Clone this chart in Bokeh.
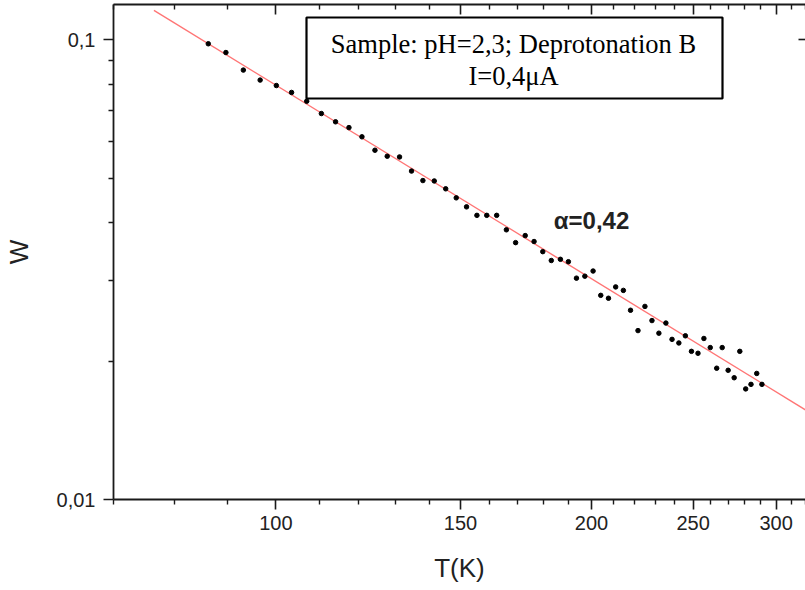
from bokeh.plotting import figure
from bokeh.models import FixedTicker, LogAxis, Label, BoxAnnotation, Range1d
from bokeh.embed import file_html
from bokeh.resources import INLINE

# ---- data ----
temperature_K = [86.2, 89.6, 93.1, 96.6, 100.1, 103.5, 107.0, 110.5, 114.0, 117.4,
                 120.8, 124.3, 127.7, 131.2, 134.7, 138.1, 141.6, 145.2, 148.6, 152.0,
                 155.5, 158.9, 162.4, 165.9, 169.3, 172.9, 176.3, 179.7, 183.1, 186.8,
                 190.1, 193.5, 197.1, 200.7, 204.1, 207.6, 210.9, 214.5, 217.9, 221.5,
                 224.9, 228.4, 231.9, 235.5, 238.7, 242.3, 245.8, 249.1, 252.7, 256.0,
                 259.6, 263.3, 266.5, 270.0, 273.6, 277.0, 280.6, 283.9, 287.5, 290.8]
W_values = [0.0980, 0.0938, 0.0859, 0.0817, 0.0795, 0.0768, 0.0735, 0.0691, 0.0663, 0.0644,
            0.0615, 0.0575, 0.0558, 0.0556, 0.0518, 0.0494, 0.0493, 0.0474, 0.0453, 0.0433,
            0.0415, 0.0415, 0.0415, 0.0386, 0.0362, 0.0375, 0.0364, 0.0346, 0.0331, 0.0333,
            0.0329, 0.0303, 0.0306, 0.0314, 0.0278, 0.0274, 0.0290, 0.0285, 0.0258, 0.0233,
            0.0263, 0.0245, 0.0230, 0.0242, 0.0223, 0.0219, 0.0227, 0.0210, 0.0208, 0.0224,
            0.0214, 0.0193, 0.0214, 0.0191, 0.0184, 0.0210, 0.0174, 0.0178, 0.0188, 0.0178]

fit_T = [76.5, 330.0]
fit_W = [0.1158, 0.0150]

x_major_ticks = [100, 150, 200, 250, 300]
x_tick_labels = ["100", "150", "200", "250", "300"]
x_minor_ticks = [70, 80, 90, 110, 120, 130, 140, 160, 170, 180, 190,
                 210, 220, 230, 240, 260, 270, 280, 290, 310, 320]
y_major_ticks = [0.01, 0.1]
y_tick_labels = ["0,01", "0,1"]
y_minor_ticks = [0.02, 0.03, 0.04, 0.05, 0.06, 0.07, 0.08, 0.09]

legend_line1 = "Sample: pH=2,3; Deprotonation B"
legend_line2 = "I=0,4\u03bcA"
alpha_text = "\u03b1=0,42"
x_title = "T(K)"
y_title = "W"

# ---- figure ----
FONT = "Liberation Sans"
INK = "#1a1a1a"

p = figure(width=805, height=590, x_axis_type="log", y_axis_type="log",
           x_range=Range1d(70, 320), y_range=Range1d(0.01, 0.1193),
           output_backend="svg", toolbar_location=None,
           min_border_left=108, min_border_right=0, min_border_top=4,
           min_border_bottom=91)
p.xgrid.visible = False
p.ygrid.visible = False
p.outline_line_color = None
p.background_fill_color = "white"
p.border_fill_color = "white"

xt = FixedTicker(ticks=x_major_ticks, minor_ticks=x_minor_ticks)
yt = FixedTicker(ticks=y_major_ticks, minor_ticks=y_minor_ticks)

xb = p.below[0]
xb.ticker = xt
xb.major_label_overrides = {t: s for t, s in zip(x_major_ticks, x_tick_labels)}
yl = p.left[0]
yl.ticker = yt
yl.major_label_overrides = {t: s for t, s in zip(y_major_ticks, y_tick_labels)}

for ax in (xb, yl):
    ax.axis_line_color = INK
    ax.axis_line_width = 1.8
    ax.major_tick_line_color = INK
    ax.minor_tick_line_color = INK
    ax.major_tick_line_width = 1.6
    ax.minor_tick_line_width = 1.4
    ax.major_tick_in = 0
    ax.major_tick_out = 10
    ax.minor_tick_in = 0
    ax.minor_tick_out = 5
    ax.major_label_text_font = FONT
    ax.major_label_text_font_size = "20px"
    ax.major_label_text_color = "#222222"
    ax.axis_label_text_font = FONT
    ax.axis_label_text_font_size = "26px"
    ax.axis_label_text_font_style = "normal"
    ax.axis_label_text_color = "#222222"

xb.axis_label = x_title
xb.major_label_standoff = 6
xb.axis_label_standoff = 20
yl.axis_label = y_title
yl.major_label_standoff = 8
yl.axis_label_standoff = 20

# mirrored top frame axis: ticks only (labels not drawn)
top = LogAxis(ticker=xt, major_tick_in=10, major_tick_out=0, minor_tick_in=5, minor_tick_out=0,
              major_label_text_font_size="1px", major_label_text_color=None,
              major_label_standoff=0,
              axis_line_color=INK, axis_line_width=1.8,
              major_tick_line_color=INK, minor_tick_line_color=INK,
              major_tick_line_width=1.6, minor_tick_line_width=1.4)
p.add_layout(top, "above")

# right frame edge lies just outside the picture: only its 0,1 tick shows
right = LogAxis(ticker=FixedTicker(ticks=[0.1], minor_ticks=[]), major_tick_in=7, major_tick_out=0,
                minor_tick_in=0, minor_tick_out=0,
                major_label_text_font_size="1px", major_label_text_color=None,
                major_label_standoff=0,
                axis_line_color=None, major_tick_line_color=INK, major_tick_line_width=1.6)
p.add_layout(right, "right")

# fit line and data points
p.line(fit_T, fit_W, line_color="#ff7575", line_width=1.4)
p.scatter(temperature_K, W_values, size=4.5, color="black")

# legend box (frame-relative screen units)
box = BoxAnnotation(left=193, right=609, bottom=401, top=482,
                    left_units="screen", right_units="screen",
                    bottom_units="screen", top_units="screen",
                    fill_color="white", fill_alpha=1.0,
                    line_color="black", line_alpha=1.0, line_width=2.2)
p.add_layout(box)
for txt, yy in ((legend_line1, 456), (legend_line2, 424)):
    p.add_layout(Label(x=400, y=yy, x_units="screen", y_units="screen", text=txt,
                       text_align="center", text_baseline="middle",
                       text_font="Liberation Serif", text_font_size="26.5px",
                       text_color="black"))

p.add_layout(Label(x=478, y=279, x_units="screen", y_units="screen", text=alpha_text,
                   text_align="center", text_baseline="middle",
                   text_font=FONT, text_font_size="24px", text_font_style="bold",
                   text_color="#222222"))

open("out.html", "w").write(file_html(p, INLINE))
